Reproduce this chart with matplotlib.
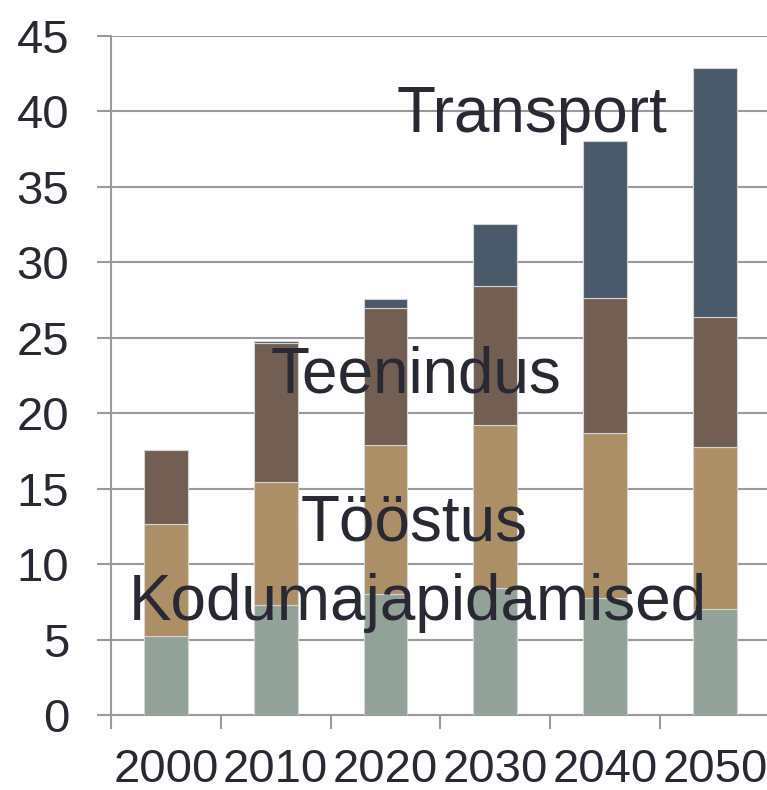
import numpy as np
import matplotlib.pyplot as plt

# Data
years = ['2000', '2010', '2020', '2030', '2040', '2050']
kodumajapidamised = [5.27, 7.27, 8.0, 8.4, 7.74, 7.04]
toostus = [7.38, 8.2, 9.91, 10.82, 10.93, 10.74]
teenindus = [4.93, 9.16, 9.06, 9.24, 8.96, 8.6]
transport = [0.0, 0.14, 0.59, 4.1, 10.39, 16.5]

series = [
    ('Kodumajapidamised', kodumajapidamised, '#93a299'),
    ('Tööstus', toostus, '#ad8f67'),
    ('Teenindus', teenindus, '#725e53'),
    ('Transport', transport, '#4b5a6a'),
]

text_col = '#292934'
grid_col = '#9a9a9a'

plt.rcParams['font.family'] = ['Liberation Sans', 'DejaVu Sans']

fig = plt.figure(figsize=(7.67, 7.9), dpi=100)
ax = fig.add_axes([0.1447, 0.0949, 0.859, 0.8595])

x = np.arange(len(years))
bottom = np.zeros(len(years))
for name, vals, col in series:
    ax.bar(x, vals, 0.4, bottom=bottom, color=col,
           edgecolor='#d4d4d4', linewidth=0.8, zorder=3)
    bottom += np.array(vals)

ax.set_xlim(-0.5, 5.5)
ax.set_ylim(0, 45)
ax.set_yticks(np.arange(0, 46, 5))
ax.yaxis.grid(True, color=grid_col, linewidth=1.5, zorder=0)

# category ticks between the bars, labels under the bars
ax.set_xticks(x)
ax.set_xticklabels(years)
ax.set_xticks(np.arange(-0.5, 6, 1), minor=True)
ax.tick_params(axis='x', which='major', length=0, pad=24,
               labelsize=34, labelcolor=text_col)
ax.tick_params(axis='x', which='minor', length=10, width=1.5,
               color=grid_col, direction='out')
ax.tick_params(axis='y', length=10, width=1.5, color=grid_col,
               pad=20, labelsize=34, labelcolor=text_col)

for s in ['top', 'right']:
    ax.spines[s].set_visible(False)
for s in ['left', 'bottom']:
    ax.spines[s].set_color(grid_col)
    ax.spines[s].set_linewidth(1.5)

# series labels placed on the chart
ax.text(3.33, 38.66, 'Transport', fontsize=46, color=text_col,
        ha='center', va='baseline', zorder=5)
ax.text(2.28, 21.4, 'Teenindus', fontsize=46, color=text_col,
        ha='center', va='baseline', zorder=5)
ax.text(2.26, 11.57, 'Tööstus', fontsize=46, color=text_col,
        ha='center', va='baseline', zorder=5)
ax.text(2.29, 6.28, 'Kodumajapidamised', fontsize=46, color=text_col,
        ha='center', va='baseline', zorder=5)

fig.savefig('out.png', dpi=100)
